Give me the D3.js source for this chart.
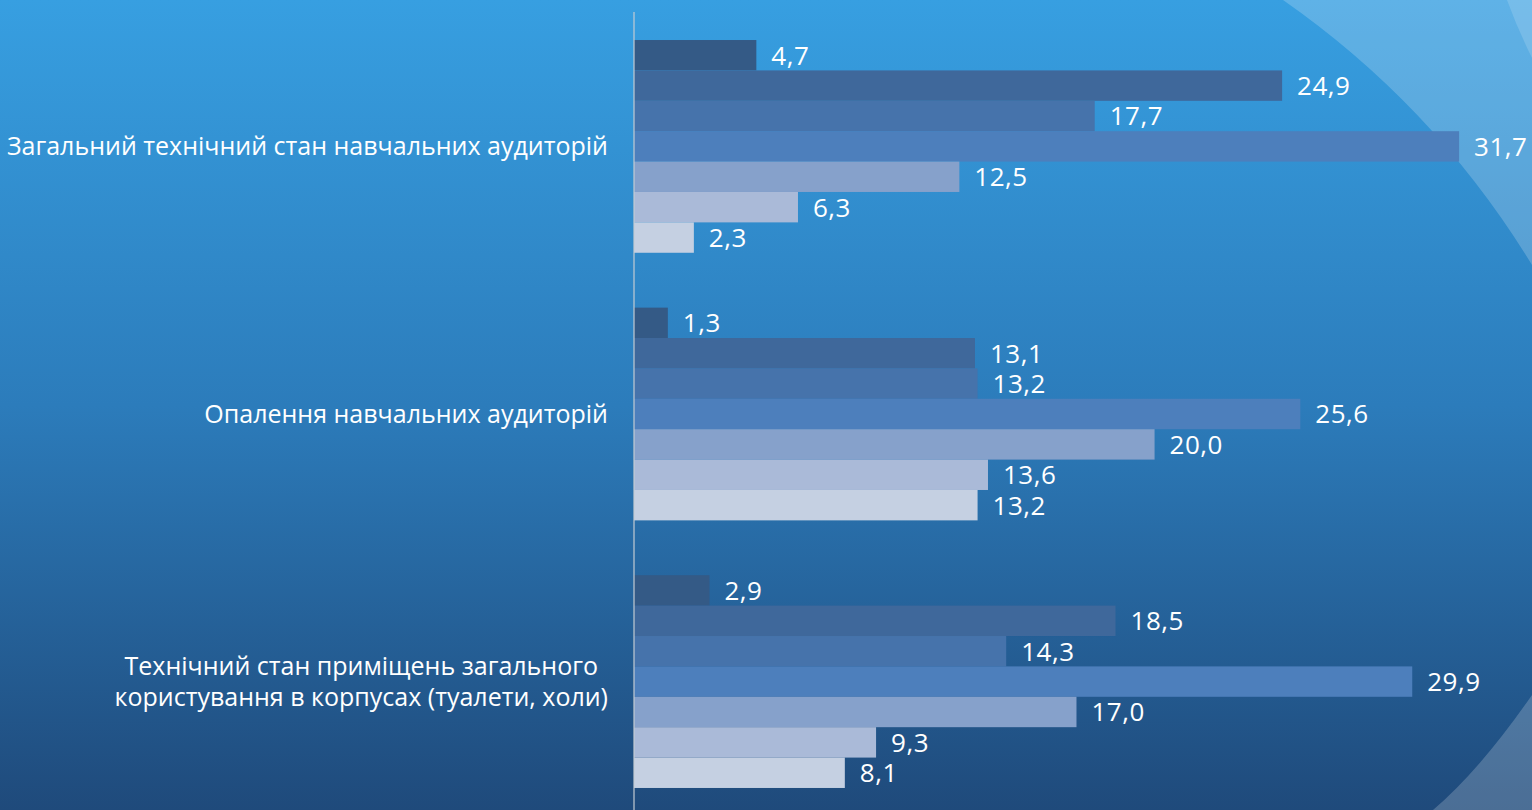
<!DOCTYPE html>
<html><head><meta charset="utf-8">
<script src="https://cdn.jsdelivr.net/npm/d3@7"></script>
<style>html,body{margin:0;padding:0;overflow:hidden;background:#2b7ab8}</style>
</head><body>
<svg id="chart" width="1532" height="810"></svg>
<script>
const categories = [
  "Загальний технічний стан навчальних аудиторій",
  "Опалення навчальних аудиторій",
  "Технічний стан приміщень загального\nкористування в корпусах (туалети, холи)"
];
const seriesNames = ["1", "2", "3", "4", "5", "6", "7"];
const series1 = [4.7, 1.3, 2.9];
const series2 = [24.9, 13.1, 18.5];
const series3 = [17.7, 13.2, 14.3];
const series4 = [31.7, 25.6, 29.9];
const series5 = [12.5, 20.0, 17.0];
const series6 = [6.3, 13.6, 9.3];
const series7 = [2.3, 13.2, 8.1];
const seriesValues = [series1, series2, series3, series4, series5, series6, series7];
const seriesColors = ["#345a86", "#3f689b", "#4673ab", "#4d7fbc", "#86a1cb", "#aabad8", "#c5d0e2"];

const W = 1532, H = 810;
const svg = d3.select("#chart");
const defs = svg.append("defs");
const grad = defs.append("linearGradient").attr("id", "bg").attr("x1", 0).attr("y1", 0).attr("x2", 0).attr("y2", 1);
grad.append("stop").attr("offset", "0").attr("stop-color", "#379fe1");
grad.append("stop").attr("offset", "0.5").attr("stop-color", "#2c7cbb");
grad.append("stop").attr("offset", "1").attr("stop-color", "#1f4a7b");
svg.append("rect").attr("width", W).attr("height", H).attr("fill", "url(#bg)");

// decorative overlays
svg.append("path").attr("d", "M1283,0 Q1435,106 1532,265 L1532,0 Z").attr("fill", "#fff").attr("opacity", 0.2);
svg.append("path").attr("d", "M1507,0 Q1518,30 1532,58 L1532,0 Z").attr("fill", "#fff").attr("opacity", 0.15);
svg.append("path").attr("d", "M1532,695 Q1480,770 1433,810 L1532,810 Z").attr("fill", "#fff").attr("opacity", 0.2);

const x = d3.scaleLinear().domain([0, 35]).range([634, 1545]);
const y0 = d3.scaleBand().domain(categories).range([12.6, 815.4]).paddingInner(0.205).paddingOuter(0.1025);
const y1 = d3.scaleBand().domain(seriesNames).range([0, y0.bandwidth()]);
const fmt = v => d3.format(".1f")(v).replace(".", ",");
const font = "'Open Sans', sans-serif";

const groups = svg.append("g").selectAll("g").data(categories).join("g")
  .attr("transform", d => `translate(0,${y0(d)})`);

groups.each(function(cat, ci) {
  const g = d3.select(this);
  const rows = seriesNames.map((s, si) => ({s, si, v: seriesValues[si][ci]}));
  g.selectAll("rect").data(rows).join("rect")
    .attr("x", x(0)).attr("y", d => y1(d.s))
    .attr("width", d => x(d.v) - x(0)).attr("height", y1.bandwidth())
    .attr("fill", d => seriesColors[d.si]);
  g.selectAll("text").data(rows).join("text")
    .attr("x", d => x(d.v) + 15).attr("y", d => y1(d.s) + y1.bandwidth() / 2)
    .attr("dy", "0.36em").attr("fill", "#fff")
    .style("font-family", font).style("font-size", "26px").style("letter-spacing", "0.5px")
    .text(d => fmt(d.v));
});

// axis line
svg.append("line").attr("x1", x(0)).attr("x2", x(0)).attr("y1", 12).attr("y2", H)
  .attr("stroke", "#c3cbd3").attr("stroke-width", 1.2);

// category labels
categories.forEach(cat => {
  const lines = cat.split("\n");
  const cy = y0(cat) + y0.bandwidth() / 2;
  const lh = 31;
  const t = svg.append("g");
  const texts = lines.map((ln, i) => t.append("text")
    .attr("y", cy + (i - (lines.length - 1) / 2) * lh).attr("dy", "0.36em")
    .attr("fill", "#fff").style("font-family", font).style("font-size", "25px")
    .attr("text-anchor", "middle").text(ln));
  const widths = texts.map(tx => tx.node().getComputedTextLength());
  const maxW = d3.max(widths);
  const right = 608;
  texts.forEach(tx => tx.attr("x", right - maxW / 2));
});
</script>
</body></html>
